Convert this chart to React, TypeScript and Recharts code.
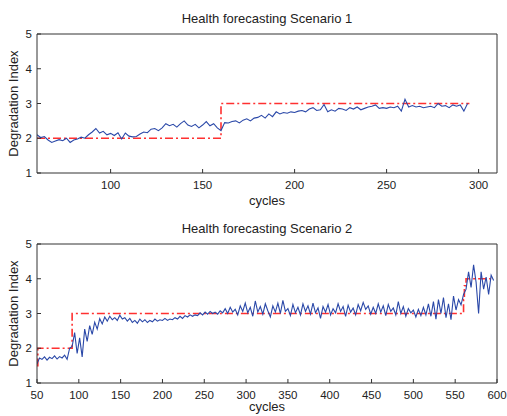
import { LineChart, Line, XAxis, YAxis, Label } from "recharts"

// Scenario 1: degradation index sampled every 2 cycles from cycle 60
const s1Start = 60
const s1Step = 2
const s1Values = [
  2.10, 2.02, 2.05, 1.95, 1.88, 1.92, 1.96, 1.93, 2.00, 1.88,
  1.95, 1.98, 2.03, 2.00, 2.10, 2.18, 2.28, 2.15, 2.20, 2.10,
  2.14, 2.08, 2.16, 1.98, 2.15, 2.06, 2.04, 2.05, 2.12, 2.18,
  2.16, 2.26, 2.28, 2.22, 2.30, 2.42, 2.36, 2.40, 2.32, 2.42,
  2.50, 2.38, 2.34, 2.40, 2.30, 2.38, 2.48, 2.36, 2.42, 2.30,
  2.22, 2.45, 2.44, 2.48, 2.50, 2.44, 2.52, 2.56, 2.50, 2.58,
  2.60, 2.66, 2.58, 2.70, 2.62, 2.76, 2.70, 2.74, 2.72, 2.76,
  2.74, 2.78, 2.80, 2.76, 2.84, 2.88, 2.80, 2.82, 2.97, 2.76,
  2.82, 2.78, 2.86, 2.84, 2.80, 2.88, 2.84, 2.90, 2.82, 2.86,
  2.90, 2.92, 2.96, 2.86, 2.88, 2.86, 2.90, 2.88, 2.92, 2.78,
  3.12, 2.90, 2.94, 2.90, 2.92, 2.88, 2.90, 2.92, 2.88, 3.00,
  2.92, 2.94, 2.88, 2.96, 2.92, 2.96, 2.78, 3.00,
]
const s1StepCycles = [60, 160, 295]
const s1StepLevels = [2, 3, 3]

// Scenario 2: degradation index sampled every 3 cycles from cycle 50
const s2Start = 50
const s2Step = 3
const s2Values = [
  1.55, 1.72, 1.68, 1.75, 1.66, 1.74, 1.70, 1.78, 1.69, 1.76,
  1.72, 1.80, 1.68, 2.00, 2.05, 2.45, 1.85, 2.30, 1.75, 2.55,
  2.20, 2.65, 2.40, 2.75, 2.55, 2.85, 2.70, 2.90, 2.78, 2.92,
  2.82, 2.88, 2.80, 2.95, 2.84, 2.88, 2.78, 2.86, 2.74, 2.80,
  2.72, 2.84, 2.76, 2.82, 2.74, 2.80, 2.76, 2.84, 2.78, 2.82,
  2.80, 2.86, 2.80, 2.84, 2.82, 2.88, 2.84, 2.92, 2.86, 2.94,
  2.90, 2.96, 2.92, 2.96, 2.94, 3.02, 2.96, 3.04, 2.98, 3.06,
  3.00, 3.04, 2.98, 3.08, 3.02, 3.14, 3.00, 3.18, 3.04, 3.12,
  2.96, 3.22, 3.06, 3.30, 3.02, 3.18, 2.92, 3.36, 3.04, 3.20,
  2.98, 3.28, 3.08, 2.90, 3.22, 3.04, 3.30, 3.00, 3.38, 3.06,
  3.14, 2.94, 3.26, 3.02, 3.18, 2.96, 3.28, 3.06, 3.22, 2.98,
  3.30, 3.02, 3.16, 2.86, 3.20, 3.04, 3.26, 2.96, 3.14, 3.02,
  3.28, 3.06, 3.20, 2.92, 3.24, 3.04, 3.16, 2.96, 3.26, 3.08,
  3.32, 3.12, 3.22, 2.98, 3.18, 3.00, 3.28, 3.04, 3.22, 2.94,
  3.26, 3.06, 3.16, 2.96, 3.34, 3.00, 3.20, 2.92, 3.14, 3.02,
  3.10, 2.90, 3.12, 2.94, 3.18, 2.96, 3.28, 2.92, 3.34, 2.84,
  3.40, 3.00, 3.46, 2.88, 3.28, 2.82, 3.50, 3.10, 3.40, 3.25,
  3.55, 3.70, 4.20, 3.75, 4.40, 3.90, 3.00, 4.20, 3.70, 4.05,
  3.55, 4.10, 3.95,
]
const s2StepCycles = [50, 51, 92, 560, 561, 563, 595]
const s2StepLevels = [1.5, 2, 3, 3.4, 3.8, 4, 4]

const yTicks = [1, 2, 3, 4, 5]
const s1Ticks = [100, 150, 200, 250, 300]
const s2Ticks = [50, 100, 150, 200, 250, 300, 350, 400, 450, 500, 550, 600]

const font = '"Liberation Sans", Arial, sans-serif'
const ink = "#222"
const axisColor = "#333"

function Panel({ title, values, start, step, stepCycles, stepLevels, domain, ticks, xLabelOffset }: any) {
  const series = values.map((v: number, i: number) => ({ x: start + step * i, y: v }))
  const steps = stepCycles.map((c: number, i: number) => ({ x: c, y: stepLevels[i] }))
  const tickStyle = { fontSize: 11.5, fill: ink, fontFamily: font }
  const labelStyle = { fontSize: 13, fill: ink, fontFamily: font }

  return (
    <LineChart width={507} height={210} margin={{ top: 33, right: 9, bottom: 0, left: 0 }}>
      <XAxis
        dataKey="x"
        type="number"
        domain={domain}
        ticks={ticks}
        tick={tickStyle}
        tickSize={-4}
        tickMargin={12}
        height={37}
        stroke={axisColor}
        allowDataOverflow
      >
        <Label value="cycles" position="insideBottom" offset={xLabelOffset} style={labelStyle} />
      </XAxis>
      <XAxis
        xAxisId="top"
        orientation="top"
        dataKey="x"
        type="number"
        domain={domain}
        ticks={ticks}
        tick={false}
        tickLine={false}
        height={1}
        stroke={axisColor}
      >
        <Label value={title} position="top" offset={10} style={labelStyle} />
      </XAxis>
      <YAxis
        type="number"
        domain={[1, 5]}
        ticks={yTicks}
        tick={tickStyle}
        tickSize={-4}
        tickMargin={9}
        width={37}
        stroke={axisColor}
        allowDataOverflow
      >
        <Label
          value="Degradation Index"
          angle={-90}
          position="insideLeft"
          offset={13}
          style={{ ...labelStyle, textAnchor: "middle" }}
        />
      </YAxis>
      <YAxis
        yAxisId="right"
        orientation="right"
        type="number"
        domain={[1, 5]}
        ticks={yTicks}
        tickFormatter={() => ""}
        tickSize={-4}
        width={1}
        stroke={axisColor}
      />
      <Line
        data={steps}
        dataKey="y"
        type="stepAfter"
        stroke="#ff3030"
        strokeWidth={1.6}
        strokeDasharray="8 3 2 3"
        dot={false}
        isAnimationActive={false}
      />
      <Line
        data={series}
        dataKey="y"
        type="linear"
        stroke="#2a48a8"
        strokeWidth={1.1}
        dot={false}
        isAnimationActive={false}
      />
    </LineChart>
  )
}

export default function App() {
  return (
    <div style={{ position: "absolute", left: 0, top: 0, width: 507, height: 416, overflow: "hidden", background: "#fff" }}>
      <div style={{ position: "absolute", left: 0, top: 0 }}>
        <Panel
          title="Health forecasting Scenario 1"
          values={s1Values}
          start={s1Start}
          step={s1Step}
          stepCycles={s1StepCycles}
          stepLevels={s1StepLevels}
          domain={[60, 310]}
          ticks={s1Ticks}
          xLabelOffset={5}
        />
      </div>
      <div style={{ position: "absolute", left: 0, top: 210 }}>
        <Panel
          title="Health forecasting Scenario 2"
          values={s2Values}
          start={s2Start}
          step={s2Step}
          stepCycles={s2StepCycles}
          stepLevels={s2StepLevels}
          domain={[50, 600]}
          ticks={s2Ticks}
          xLabelOffset={9}
        />
      </div>
    </div>
  )
}
